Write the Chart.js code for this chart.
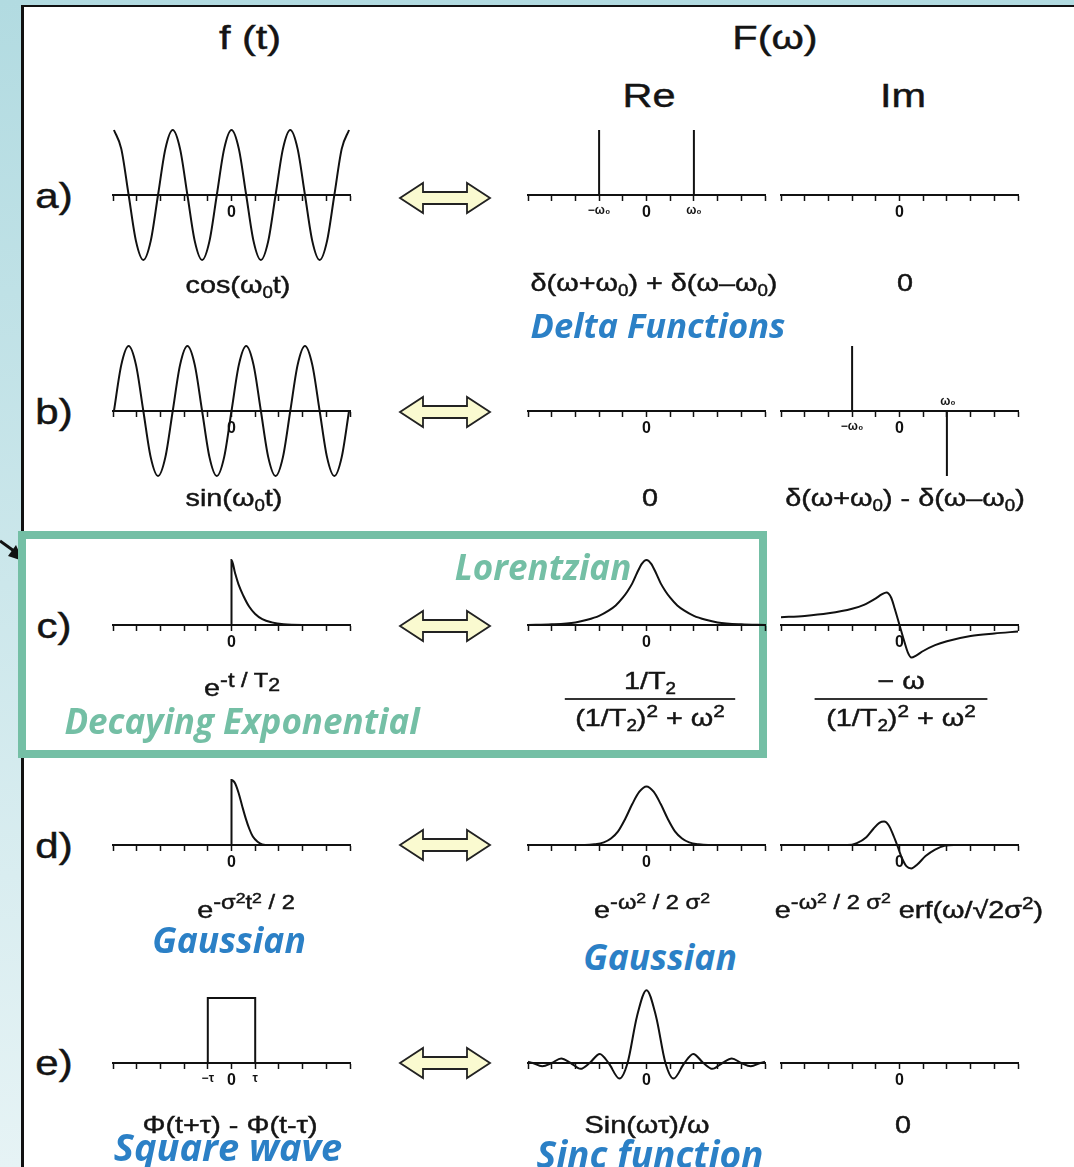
<!DOCTYPE html>
<html>
<head>
<meta charset="utf-8">
<script src="https://cdn.jsdelivr.net/npm/chart.js@4.4.0/dist/chart.umd.min.js"></script>
<style>
  html, body { margin: 0; padding: 0; }
  body {
    width: 1074px; height: 1167px; overflow: hidden; position: relative;
    background: linear-gradient(#b2dbe1, #e6f3f5);
    font-family: "Liberation Sans", Arial, sans-serif; color: #141414;
  }
  #panel { position: absolute; left: 21px; top: 5px; right: 0; bottom: 0; background: #fff;
           border-left: 3px solid #111; border-top: 2px solid #111; }
  #deco { position: absolute; left: 0; top: 0; z-index: 1; }
  .plot { position: absolute; z-index: 2; }
  #greenBox { position: absolute; left: 18px; top: 531px; width: 749px; height: 227px;
              box-sizing: border-box; border: 8px solid #74bfa5; z-index: 2; }
  .tx { position: absolute; z-index: 3; white-space: nowrap; line-height: 1;
        transform: translate(-50%, -50%) scaleX(1.2); font-size: 24px;
        -webkit-text-stroke: 0.45px #141414; }
  .hd { font-size: 34px; transform: translate(-50%, -50%) scaleX(1.22); }
  .rl { font-size: 35px; }
  .note { position: absolute; z-index: 3; white-space: nowrap; line-height: 1;
          transform: translate(-50%, -50%); font-family: "Open Sans", sans-serif;
          font-weight: bold; font-style: italic; font-size: 35px; }
  .blue { color: #2b80c6; }
  .green { color: #74bfa5; }
  .sb { font-size: 0.65em; position: relative; top: 0.3em; }
  .sp { font-size: 0.72em; position: relative; top: -0.55em; }
  .sp .sb { font-size: 0.85em; top: 0.25em; }
  .spx { font-size: 0.82em; position: relative; top: -0.45em; }
  .spx .sb { font-size: 0.9em; top: 0.2em; }
  .spx .sp { font-size: 0.75em; top: -0.4em; }
  .tiny { font-size: 12px; font-weight: bold; transform: translate(-50%, -50%); -webkit-text-stroke: 0; }
  .frac { position: absolute; z-index: 3; transform: translateX(-50%) scaleX(1.2); text-align: center;
          font-size: 24px; line-height: 1; -webkit-text-stroke: 0.45px #141414; }
  .frac .num { padding-bottom: 5px; }
  .frac .den { border-top: 2px solid #333; padding-top: 6px; }
</style>
</head>
<body>
<div id="panel"></div>

<svg id="deco" width="1074" height="1167">
  <defs>
    <polygon id="dbl" points="0,0 23,-15 23,-6 67,-6 67,-15 90,0 67,15 67,6 23,6 23,15"
             fill="#fafad0" stroke="#222" stroke-width="1.8"/>
  </defs>
  <use href="#dbl" x="400" y="198"/>
  <use href="#dbl" x="400" y="412"/>
  <use href="#dbl" x="400" y="626"/>
  <use href="#dbl" x="400" y="845"/>
  <use href="#dbl" x="400" y="1063"/>
  <line x1="0" y1="541" x2="14" y2="551" stroke="#111" stroke-width="3"/>
  <polygon points="23,561 8,556 16,545" fill="#111"/>
</svg>

<div id="greenBox"></div>

<!-- headers -->
<div class="tx hd" style="left:250px;top:37px">f (t)</div>
<div class="tx hd" style="left:775px;top:37px">F(ω)</div>
<div class="tx hd" style="left:649px;top:95px">Re</div>
<div class="tx hd" style="left:903px;top:95px">Im</div>

<!-- row labels -->
<div class="tx rl" style="left:54px;top:195px">a)</div>
<div class="tx rl" style="left:54px;top:411px">b)</div>
<div class="tx rl" style="left:54px;top:625px">c)</div>
<div class="tx rl" style="left:54px;top:845px">d)</div>
<div class="tx rl" style="left:54px;top:1062px">e)</div>

<!-- row a -->
<div class="tx" style="left:238px;top:285px">cos(ω<span class="sb">0</span>t)</div>
<div class="tx" style="left:654px;top:283px">δ(ω+ω<span class="sb">0</span>) + δ(ω–ω<span class="sb">0</span>)</div>
<div class="tx" style="left:905px;top:283px">0</div>
<div class="note blue" style="left:658px;top:325px;font-size:34.5px">Delta Functions</div>

<!-- row b -->
<div class="tx" style="left:234px;top:498px">sin(ω<span class="sb">0</span>t)</div>
<div class="tx" style="left:650px;top:498px">0</div>
<div class="tx" style="left:905px;top:498px">δ(ω+ω<span class="sb">0</span>) - δ(ω–ω<span class="sb">0</span>)</div>
<div class="tx tiny" style="left:948px;top:401px">ω₀</div>

<!-- row c -->
<div class="note green" style="left:543px;top:566px">Lorentzian</div>
<div class="tx" style="left:242px;top:688px">e<span class="spx">-t / T<span class="sb">2</span></span></div>
<div class="frac" style="left:650px;top:669px;width:142px">
  <div class="num">1/T<span class="sb">2</span></div>
  <div class="den">(1/T<span class="sb">2</span>)<span class="sp">2</span> + ω<span class="sp">2</span></div>
</div>
<div class="frac" style="left:901px;top:669px;width:144px">
  <div class="num">− ω</div>
  <div class="den">(1/T<span class="sb">2</span>)<span class="sp">2</span> + ω<span class="sp">2</span></div>
</div>
<div class="note green" style="left:242px;top:720px">Decaying Exponential</div>

<!-- row d -->
<div class="tx" style="left:246px;top:910px">e<span class="spx">-σ<span class="sp">2</span>t<span class="sp">2</span> / 2</span></div>
<div class="note blue" style="left:229px;top:940px;font-size:35.5px">Gaussian</div>
<div class="tx" style="left:652px;top:910px">e<span class="spx">-ω<span class="sp">2</span> / 2 σ<span class="sp">2</span></span></div>
<div class="tx" style="left:909px;top:910px">e<span class="spx">-ω<span class="sp">2</span> / 2 σ<span class="sp">2</span></span> erf(ω/√2σ<span class="sp">2</span>)</div>
<div class="note blue" style="left:660px;top:957px;font-size:35.5px">Gaussian</div>

<!-- row e -->
<div class="tx" style="left:230px;top:1125px">Φ(t+τ) - Φ(t-τ)</div>
<div class="note blue" style="left:228px;top:1146px;font-size:38px">Square wave</div>
<div class="tx" style="left:647px;top:1125px">Sin(ωτ)/ω</div>
<div class="tx" style="left:903px;top:1125px">0</div>
<div class="note blue" style="left:650px;top:1153px;font-size:37px">Sinc function</div>

<script>
// ======================================================
// DATA (x in tick units -5..5, y in units of the cos amplitude)
// ======================================================

// a) / b) cosine and sine, 8 samples per period
const waveT = [-4.96, -4.65, -4.34, -4.03, -3.72, -3.41, -3.1, -2.79, -2.48, -2.17, -1.86, -1.55,
               -1.24, -0.93, -0.62, -0.31, 0, 0.31, 0.62, 0.93, 1.24, 1.55, 1.86, 2.17,
               2.48, 2.79, 3.1, 3.41, 3.72, 4.03, 4.34, 4.65, 4.96];
const cosVals = [1, 0.71, 0, -0.71, -1, -0.71, 0, 0.71, 1, 0.71, 0, -0.71,
                 -1, -0.71, 0, 0.71, 1, 0.71, 0, -0.71, -1, -0.71, 0, 0.71,
                 1, 0.71, 0, -0.71, -1, -0.71, 0, 0.71, 1];
const sinVals = [0, 0.71, 1, 0.71, 0, -0.71, -1, -0.71, 0, 0.71, 1, 0.71,
                 0, -0.71, -1, -0.71, 0, 0.71, 1, 0.71, 0, -0.71, -1, -0.71,
                 0, 0.71, 1, 0.71, 0, -0.71, -1, -0.71, 0];

// delta spikes
const deltaReAW = [-2, 2];
const deltaReAVals = [1, 1];
const deltaImBW = [-2, 2];
const deltaImBVals = [1, -1];

// c) decaying exponential, Lorentzian, dispersion
const decayT = [0, 0, 0.15, 0.3, 0.5, 0.75, 1.0, 1.3, 1.7, 2.2, 3, 5];
const decayVals = [0, 1, 0.8, 0.62, 0.45, 0.28, 0.17, 0.09, 0.04, 0.01, 0, 0];
const lorW = [-5, -4, -3, -2.5, -2, -1.6, -1.3, -1, -0.8, -0.6, -0.4, -0.2, 0,
              0.2, 0.4, 0.6, 0.8, 1, 1.3, 1.6, 2, 2.5, 3, 4, 5];
const lorVals = [0, 0.01, 0.04, 0.08, 0.14, 0.22, 0.3, 0.42, 0.52, 0.64, 0.8, 0.94, 1,
                 0.94, 0.8, 0.64, 0.52, 0.42, 0.3, 0.22, 0.14, 0.08, 0.04, 0.01, 0];
const dispW = [-5, -4, -3, -2, -1.5, -1, -0.75, -0.55, -0.35, -0.2, 0,
               0.2, 0.35, 0.5, 0.7, 1, 1.5, 2, 3, 4, 5];
const dispVals = [0.12, 0.14, 0.18, 0.25, 0.31, 0.41, 0.47, 0.5, 0.42, 0.25, 0,
                  -0.25, -0.42, -0.5, -0.47, -0.4, -0.31, -0.25, -0.17, -0.13, -0.1];

// d) gaussians
const halfGaussT = [0, 0, 0.15, 0.3, 0.45, 0.6, 0.75, 0.9, 1.1, 1.3, 1.6, 5];
const halfGaussVals = [0, 1, 0.95, 0.8, 0.6, 0.41, 0.25, 0.13, 0.05, 0.01, 0, 0];
const gaussW = [-5, -2.6, -2.2, -1.8, -1.5, -1.2, -0.9, -0.6, -0.3, 0,
                0.3, 0.6, 0.9, 1.2, 1.5, 1.8, 2.2, 2.6, 5];
const gaussVals = [0, 0, 0.01, 0.04, 0.1, 0.21, 0.4, 0.63, 0.82, 0.9,
                   0.82, 0.63, 0.4, 0.21, 0.1, 0.04, 0.01, 0, 0];
const erfW = [-5, -2.2, -1.8, -1.4, -1.1, -0.85, -0.65, -0.45, -0.25, -0.1,
              0.1, 0.3, 0.5, 0.75, 1.1, 1.5, 1.9, 2.3, 5];
const erfVals = [0, 0, 0.03, 0.12, 0.25, 0.34, 0.36, 0.3, 0.14, 0,
                 -0.2, -0.33, -0.36, -0.3, -0.17, -0.07, -0.01, 0, 0];

// e) square pulse and sinc
const rectT = [-5, -1, -1, 1, 1, 5];
const rectVals = [0, 0, 1, 1, 0, 0];
const sincW = [-5, -4.8, -4.4, -4, -3.6, -3.2, -2.78, -2.4, -1.97, -1.6, -1.14, -0.8, -0.4, 0,
               0.4, 0.8, 1.14, 1.6, 1.97, 2.4, 2.78, 3.2, 3.6, 4, 4.4, 4.8, 5];
const sincVals = [0.02, 0, -0.05, 0, 0.07, 0, -0.09, 0, 0.14, 0, -0.24, 0, 0.72, 1.12,
                  0.72, 0, -0.24, 0, 0.14, 0, -0.09, 0, 0.07, 0, -0.05, 0, 0.02];

// tick labels
const zeroTick = [0];
const zeroText = ['0'];
const reATickVals = [-2, 0, 2];
const reATickText = ['−ω₀', '0', 'ω₀'];
const imBTickVals = [-2, 0];
const imBTickText = ['−ω₀', '0'];
const rectTickVals = [-1, 0, 1];
const rectTickText = ['−τ', '0', 'τ'];

// ======================================================
// LAYOUT
// ======================================================
const U = 65;          // px per unit
const ABOVE = 80, BELOW = 80;
const colLeft = [110, 525, 778];
const colWidth = 243;
const rowAxis = [195, 411, 625, 845, 1063];

function curve(xs, ys, smooth = true) {
    return { xs, ys, smooth };
}

function spikes(xs, ys) {
    // one vertical segment per spike
    return xs.map((x, i) => ({ xs: [x, x], ys: [0, ys[i]], smooth: false }));
}

function addPlot(col, row, series, tickVals, tickText) {
    const cv = document.createElement("canvas");
    cv.width = colWidth;
    cv.height = ABOVE + BELOW;
    cv.className = "plot";
    cv.style.left = colLeft[col] + "px";
    cv.style.top = (rowAxis[row] - ABOVE) + "px";
    document.body.appendChild(cv);

    new Chart(cv, {
        type: "line",
        data: {
            datasets: series.map(s => ({
                data: s.xs.map((x, i) => ({ x: x, y: s.ys[i] })),
                borderColor: "#111",
                borderWidth: 2,
                pointRadius: 0,
                fill: false,
                clip: false,
                tension: 0,
                cubicInterpolationMode: s.smooth ? "monotone" : "default"
            }))
        },
        options: {
            responsive: false,
            animation: false,
            devicePixelRatio: 1,
            events: [],
            layout: { padding: 0 },
            plugins: { legend: { display: false }, tooltip: { enabled: false } },
            scales: {
                x: {
                    type: "linear",
                    min: -5,
                    max: 5,
                    position: { y: 0 },
                    afterFit: s => { s.height = 0; },
                    grid: {
                        display: true,
                        drawOnChartArea: false,
                        drawTicks: true,
                        tickLength: 5,
                        tickWidth: 1.5,
                        tickColor: "#111"
                    },
                    border: { display: true, color: "#111", width: 2 },
                    ticks: {
                        stepSize: 1,
                        autoSkip: false,
                        maxRotation: 0,
                        padding: 3,
                        color: "#111",
                        callback: v => {
                            const k = tickVals.indexOf(v);
                            return k < 0 ? "" : tickText[k];
                        },
                        font: ctx => ({
                            family: "Liberation Sans",
                            weight: "bold",
                            size: ctx.tick && ctx.tick.value === 0 ? 16 : 12
                        })
                    }
                },
                y: { display: false, min: -BELOW / U, max: ABOVE / U }
            }
        }
    });
}

// a)
addPlot(0, 0, [curve(waveT, cosVals)], zeroTick, zeroText);
addPlot(1, 0, spikes(deltaReAW, deltaReAVals), reATickVals, reATickText);
addPlot(2, 0, [], zeroTick, zeroText);
// b)
addPlot(0, 1, [curve(waveT, sinVals)], zeroTick, zeroText);
addPlot(1, 1, [], zeroTick, zeroText);
addPlot(2, 1, spikes(deltaImBW, deltaImBVals), imBTickVals, imBTickText);
// c)
addPlot(0, 2, [curve(decayT, decayVals)], zeroTick, zeroText);
addPlot(1, 2, [curve(lorW, lorVals)], zeroTick, zeroText);
addPlot(2, 2, [curve(dispW, dispVals)], zeroTick, zeroText);
// d)
addPlot(0, 3, [curve(halfGaussT, halfGaussVals)], zeroTick, zeroText);
addPlot(1, 3, [curve(gaussW, gaussVals)], zeroTick, zeroText);
addPlot(2, 3, [curve(erfW, erfVals)], zeroTick, zeroText);
// e)
addPlot(0, 4, [curve(rectT, rectVals, false)], rectTickVals, rectTickText);
addPlot(1, 4, [curve(sincW, sincVals)], zeroTick, zeroText);
addPlot(2, 4, [], zeroTick, zeroText);
</script>
</body>
</html>
